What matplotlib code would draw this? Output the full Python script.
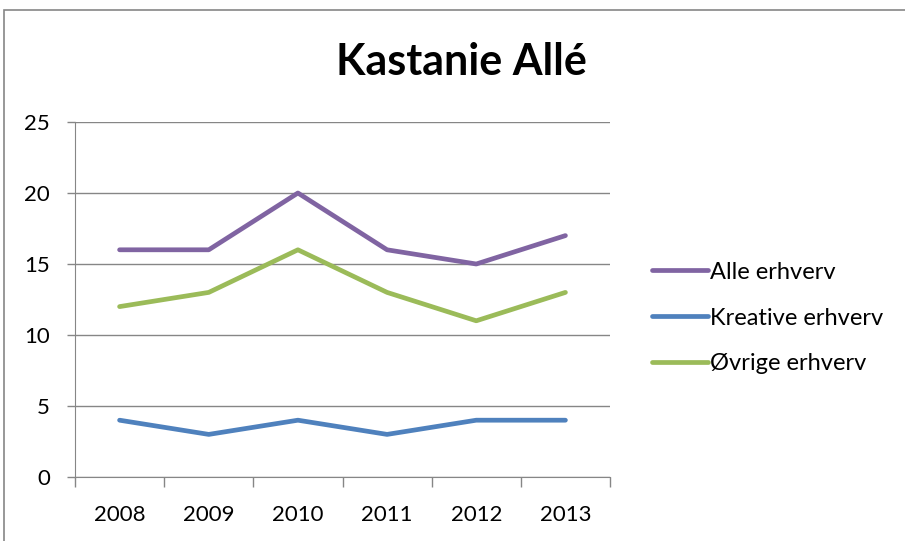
import matplotlib.pyplot as plt
from matplotlib.patches import Rectangle

aar = ["2008", "2009", "2010", "2011", "2012", "2013"]
alle = [16, 16, 20, 16, 15, 17]
kreative = [4, 3, 4, 3, 4, 4]
ovrige = [12, 13, 16, 13, 11, 13]

plt.rcParams['font.family'] = ['Lato', 'DejaVu Sans']

fig = plt.figure(figsize=(9.05, 5.41), dpi=100)
ax = fig.add_axes([75/905, 64/541, 535/905, 355/541])

x = range(len(aar))
ax.plot(x, alle, color="#8064A2", lw=3.4, solid_capstyle="round", label="Alle erhverv")
ax.plot(x, kreative, color="#4F81BD", lw=3.4, solid_capstyle="round", label="Kreative erhverv")
ax.plot(x, ovrige, color="#9BBB59", lw=3.4, solid_capstyle="round", label="Øvrige erhverv")

ax.set_xlim(-0.5, len(aar) - 0.5)
ax.set_ylim(0, 25)
ax.set_yticks(range(0, 26, 5))
ax.set_xticks(x)
ax.set_xticklabels(aar)
ax.set_xticks([i - 0.5 for i in range(len(aar) + 1)], minor=True)
ax.tick_params(axis="x", which="major", length=0, pad=20, labelsize=16)
ax.tick_params(axis="x", which="minor", length=7, color="#868686", width=1)
ax.tick_params(axis="y", length=6, color="#868686", width=1, labelsize=16, pad=12)
ax.grid(axis="y", color="#868686", lw=1)
ax.set_axisbelow(True)
for side in ["top", "right"]:
    ax.spines[side].set_visible(False)
for side in ["left", "bottom"]:
    ax.spines[side].set_color("#868686")

fig.text(461/905, 1 - 62/541, "Kastanie Allé", ha="center", va="center",
         fontsize=31, fontweight="bold")

fig.legend(loc="center left", bbox_to_anchor=(631/905, 1 - 318/541), frameon=False,
           fontsize=17, handlelength=2.35, handletextpad=0.1, labelspacing=1.05)

fig.patches.append(Rectangle((4/905, -0.1), 1.2, 1 - 10/541 + 0.1, transform=fig.transFigure,
                             fill=False, edgecolor="#868686", lw=1.2))

fig.savefig("out.png", dpi=100)
